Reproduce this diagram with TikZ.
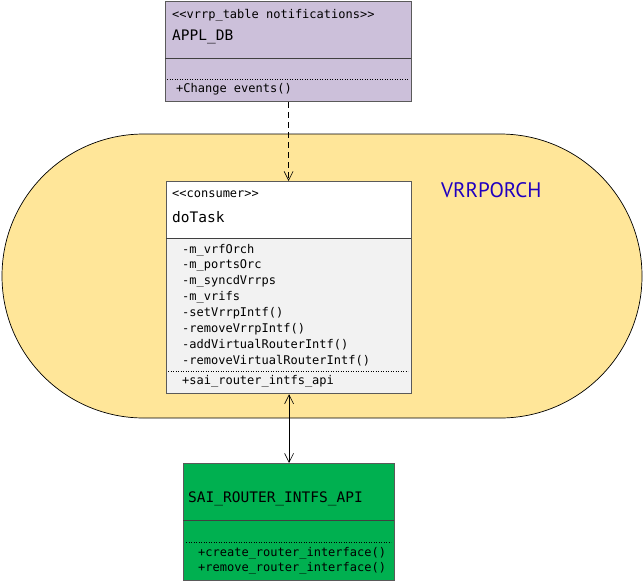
\documentclass[tikz,border=0pt]{standalone}
\usepackage{fontspec}
\setmonofont{DejaVu Sans Mono}
\newfontfamily\orchfont{PT Sans}
\usetikzlibrary{arrows.meta}

\definecolor{appllavender}{RGB}{204,192,218}
\definecolor{orchyellow}{RGB}{255,230,153}
\definecolor{saigreen}{RGB}{0,176,80}
\definecolor{bodygray}{RGB}{242,242,242}
\definecolor{orchblue}{RGB}{32,0,192}
\definecolor{edgegray}{RGB}{90,90,90}

\tikzset{
    classbox/.style={draw=edgegray, line width=1.2pt, rectangle, inner sep=0pt, anchor=north west},
    member/.style={anchor=west, inner sep=0pt, font=\ttfamily\fontsize{12}{12}\selectfont},
    classname/.style={anchor=west, inner sep=0pt, font=\ttfamily\fontsize{14.5}{14.5}\selectfont},
    sepline/.style={draw=black!75, line width=0.9pt},
    dotline/.style={dotted, line width=0.5pt},
    umlhead/.tip={Straight Barb[length=9pt,width=9pt]},
}

\begin{document}
\begin{tikzpicture}[x=1pt,y=-1pt]
            \useasboundingbox (0,0) rectangle (644,582);

            % Orch area
            \node[draw=black, line width=0.7pt, fill=orchyellow, rounded corners=141.9pt,
                  minimum width=640pt, minimum height=284pt, inner sep=0pt] (vrrporch) at (322,276) {};
            \node[anchor=west, inner sep=0pt, text=orchblue, font=\orchfont\fontsize{21}{21}\selectfont] (orchname) at (441,190) {VRRPORCH};

            % APPL_DB class
            \node[classbox, fill=appllavender, minimum width=246pt, minimum height=100pt] (appldb) at (165,0.8) {};
            \draw[sepline] (165,58) -- (411,58);
            \draw[dotline] (167,79) -- (408,79);
            \node[member] (applstereo) at (172,15) {<<vrrp\_table notifications>>};
            \node[classname] (applname) at (172,37) {APPL\_DB};
            \node[member] (applop) at (176,89) {+Change events()};

            % doTask class
            \node[classbox, fill=bodygray, minimum width=245pt, minimum height=212pt] (dotask) at (166,181) {};
            \node[classbox, fill=white, minimum width=245pt, minimum height=57pt] (dotaskhead) at (166,181) {};
            \draw[sepline] (166,238) -- (411,238);
            \draw[dotline] (168,371) -- (408,371);
            \node[member] (taskstereo) at (172,194) {<<consumer>>};
            \node[classname] (taskname) at (172,217) {doTask};
            \foreach \m [count=\i from 0] in {-m\_vrfOrch, -m\_portsOrc, -m\_syncdVrrps, -m\_vrifs,
                    -setVrrpIntf(), -removeVrrpIntf(), -addVirtualRouterIntf(), -removeVirtualRouterIntf()}
                \node[member] (taskmember\i) at (182,250+15.8*\i) {\m};
            \node[member] (taskapi) at (182,381) {+sai\_router\_intfs\_api};

            % SAI class
            \node[classbox, fill=saigreen, minimum width=211pt, minimum height=117pt] (sai) at (183,463) {};
            \draw[sepline] (183,520) -- (394,520);
            \draw[dotline] (186,542) -- (391,542);
            \node[classname] (sainame) at (188,499) {SAI\_ROUTER\_INTFS\_API};
            \node[member] (saicreate) at (198,553) {+create\_router\_interface()};
            \node[member] (sairemove) at (198,568) {+remove\_router\_interface()};

            % connectors
            \draw[-umlhead, line width=0.6pt, dash pattern=on 6pt off 4pt] (appldb.south) -- (appldb.south |- dotask.north);
            \draw[umlhead-umlhead, line width=0.6pt] (dotask.south) -- (dotask.south |- sai.north);

        \end{tikzpicture}
\end{document}
